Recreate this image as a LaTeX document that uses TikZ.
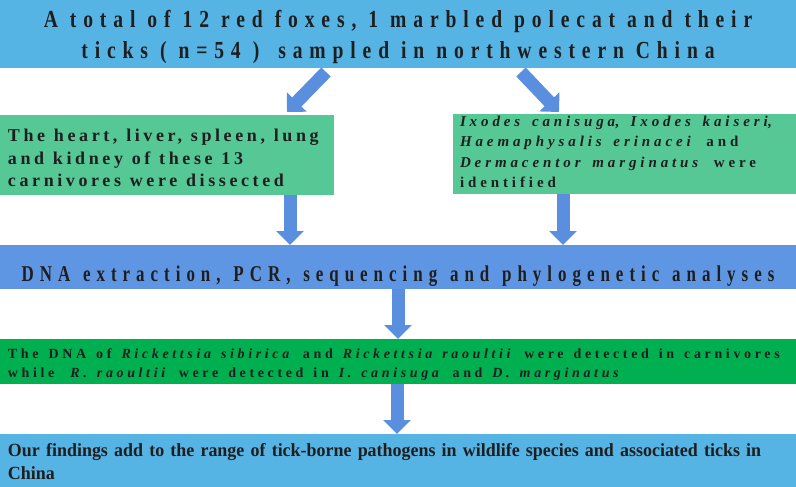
\documentclass[tikz,border=0pt]{standalone}
\usepackage{fontspec}
\setmainfont{Liberation Serif}
\newfontfamily\fTop[FakeStretch=0.8,LetterSpace=28]{Liberation Serif}
\newfontfamily\fDNA[FakeStretch=0.75,LetterSpace=26.5]{Liberation Serif}
\newfontfamily\fLeft[LetterSpace=20]{Liberation Serif}
\newfontfamily\fRight[LetterSpace=26]{Liberation Serif}
\newfontfamily\fDark[LetterSpace=26]{Liberation Serif}
\newfontfamily\fBot[FakeStretch=0.965]{Liberation Serif}
\usetikzlibrary{arrows.meta}
\definecolor{lightblue}{HTML}{56B4E5}
\definecolor{midgreen}{HTML}{55C896}
\definecolor{dnablue}{HTML}{5F96E4}
\definecolor{darkgreen}{HTML}{00B050}
\definecolor{arrowblue}{HTML}{5A8FE0}
\definecolor{ink}{HTML}{1E1E1E}
\newcommand\setws[1]{\spaceskip=#1\relax}
\tikzset{
  boxnode/.style={anchor=north west, inner sep=0pt, outer sep=0pt, draw=none},
  txt/.style={inner sep=0pt, outer sep=0pt, text=ink},
  barrow/.style={draw=arrowblue, line width=13pt, -{Triangle[width=27pt,length=14pt]}}
}
\begin{document}
\begin{tikzpicture}[x=1pt,y=-1pt]
\useasboundingbox (0,0) rectangle (796,487);
% boxes
\node[boxnode, fill=lightblue, minimum width=796pt, minimum height=68pt] (top) at (0,0) {};
\node[boxnode, fill=midgreen, minimum width=334pt, minimum height=80pt] (lg) at (0,115) {};
\node[boxnode, fill=midgreen, minimum width=343pt, minimum height=80pt] (rg) at (453,114) {};
\node[boxnode, fill=dnablue, minimum width=796pt, minimum height=44pt] (dna) at (0,245) {};
\node[boxnode, fill=darkgreen, minimum width=796pt, minimum height=45pt] (dg) at (0,339) {};
\node[boxnode, fill=lightblue, minimum width=796pt, minimum height=53pt] (bot) at (0,434) {};
% texts
\node[txt, anchor=base, text width=796pt, align=center,
  font=\fontsize{24.5}{31}\fTop\bfseries] (toptext) at (398,28)
  {\setws{12pt}A total of 12 red foxes, 1 marbled polecat and their\\\setws{12pt}ticks ( n=54 ) \hspace{7pt}sampled in northwestern China};
\node[txt, anchor=base west, text width=330pt, align=left,
  font=\fontsize{18}{22.5}\fLeft\bfseries] (lgtext) at (8,142)
  {\setws{8.8pt}The heart, liver, spleen, lung\\\setws{8.8pt}and kidney of these 13\\\setws{8.8pt}carnivores were dissected};
\node[txt, anchor=base west, text width=340pt, align=left,
  font=\fontsize{15}{20.5}\fRight\bfseries] (rgtext) at (460,126)
  {\setws{11.7pt}\textit{Ixodes canisuga}, \textit{Ixodes kaiseri},\\\setws{11.7pt}\textit{Haemaphysalis erinacei} and\\\setws{11.7pt}\textit{Dermacentor marginatus} were\\identified};
\node[txt, anchor=base, text width=796pt, align=center,
  font=\fontsize{22.6}{26}\fDNA\bfseries] (dnatext) at (398,281)
  {\setws{12.8pt}DNA extraction, PCR, sequencing and phylogenetic analyses};
\node[txt, anchor=base west, text width=790pt, align=left,
  font=\fontsize{14}{19}\fDark\bfseries] (dgtext) at (8,358)
  {\setws{10pt}The DNA of \textit{Rickettsia sibirica} and \textit{Rickettsia raoultii} were detected in carnivores\\\setws{10pt}while\hspace{16pt}\textit{R. raoultii} were detected in \textit{I. canisuga} and \textit{D. marginatus}};
\node[txt, anchor=base west, text width=788pt, align=left,
  font=\fontsize{18.6}{23.3}\fBot\bfseries] (bottext) at (8,456)
  {Our findings add to the range of tick-borne pathogens in wildlife species and associated ticks in\\China};
% arrows
\draw[barrow] ([shift={(326pt,-72pt)}]top.north west) -- ([shift={(287pt,3pt)}]lg.north west);
\draw[barrow] ([shift={(521pt,-72pt)}]top.north west) -- ([shift={(106pt,2pt)}]rg.north west);
\draw[barrow] ([xshift=290pt]lg.south west) -- ([xshift=290pt]dna.north west);
\draw[barrow] ([xshift=110pt]rg.south west) -- ([xshift=563pt]dna.north west);
\draw[barrow] ([xshift=398pt]dna.south west) -- ([xshift=398pt]dg.north west);
\draw[barrow] ([xshift=397pt]dg.south west) -- ([xshift=397pt]bot.north west);
\end{tikzpicture}
\end{document}
